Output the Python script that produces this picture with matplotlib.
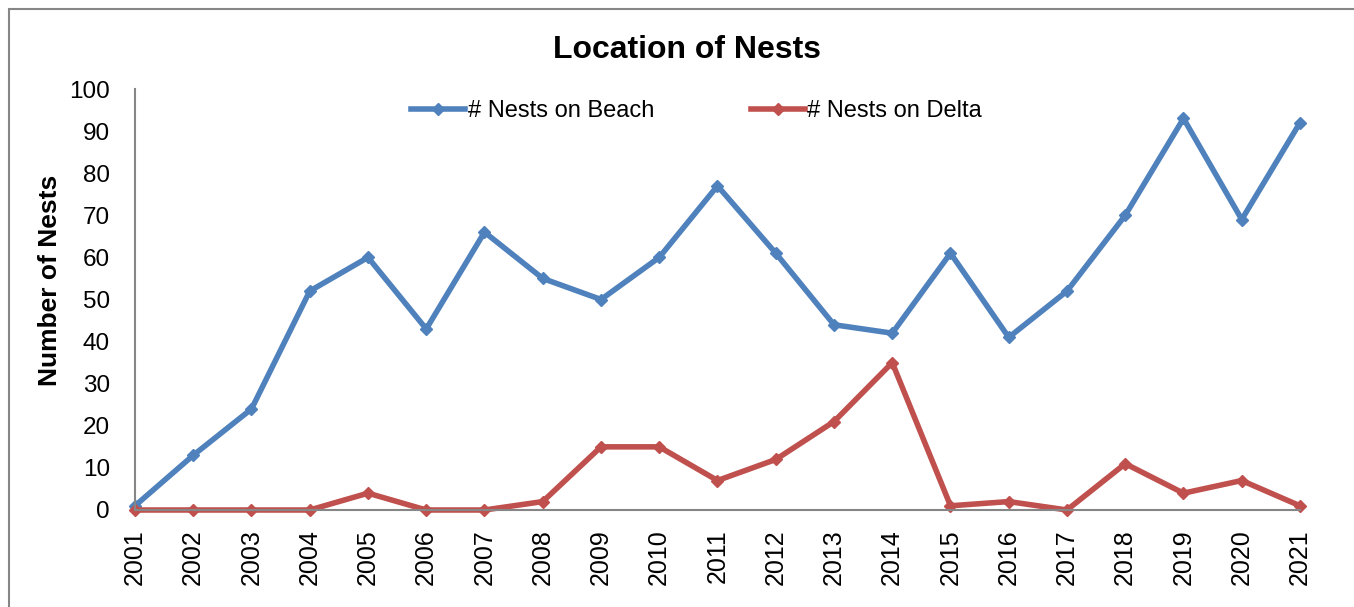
import matplotlib

matplotlib.use("Agg")
import matplotlib.pyplot as plt
from matplotlib.patches import Rectangle

plt.rcParams["font.family"] = ["Liberation Sans", "DejaVu Sans"]

years = list(range(2001, 2022))
nests_beach = [1, 13, 24, 52, 60, 43, 66, 55, 50, 60, 77, 61, 44, 42, 61, 41, 52, 70, 93, 69, 92]
nests_delta = [0, 0, 0, 0, 4, 0, 0, 2, 15, 15, 7, 12, 21, 35, 1, 2, 0, 11, 4, 7, 1]

BLUE = "#4F81BD"
RED = "#C0504D"
GRAY = "#868686"

fig = plt.figure(figsize=(13.54, 6.07), dpi=100)
ax = fig.add_axes([135 / 1354, 1 - 510 / 607, 1165 / 1354, 421 / 607])

# outer chart border (runs off the right/bottom of the image)
fig.patches.append(Rectangle((9 / 1354, -0.1), 1.2, 1 - 9 / 607 + 0.1,
                             transform=fig.transFigure, fill=False,
                             edgecolor=GRAY, linewidth=1.5))

ax.plot(years, nests_beach, color=BLUE, lw=4.0, marker="D", ms=6,
        label="# Nests on Beach", solid_joinstyle="miter")
ax.plot(years, nests_delta, color=RED, lw=4.0, marker="D", ms=6,
        label="# Nests on Delta", solid_joinstyle="miter")

ax.set_xlim(2001, 2021)
ax.set_ylim(0, 100)
ax.set_xticks(years)
ax.set_xticklabels([str(y) for y in years], rotation=90, fontsize=18)
ax.set_yticks(range(0, 101, 10))
ax.tick_params(axis="y", length=0, pad=18, labelsize=17.5)
ax.tick_params(axis="x", length=0, pad=14)
for lab in ax.get_xticklabels():
    lab.set_va("top")

for s in ("top", "right"):
    ax.spines[s].set_visible(False)
for s in ("left", "bottom"):
    ax.spines[s].set_color(GRAY)
    ax.spines[s].set_linewidth(1.5)
for line in ax.lines:
    line.set_clip_on(False)

leg = ax.legend(loc="center", bbox_to_anchor=(0.482, 0.948), ncol=2, frameon=False,
                fontsize=17, handlelength=2.3, handletextpad=0.1, columnspacing=4.1)

fig.text(687 / 1354, 1 - 50 / 607, "Location of Nests", ha="center", va="center",
         fontsize=23, fontweight="bold")
fig.text(50 / 1354, 1 - 280 / 607, "Number of Nests", ha="center", va="center",
         rotation=90, fontsize=19, fontweight="bold")

fig.savefig("out.png", dpi=100)
